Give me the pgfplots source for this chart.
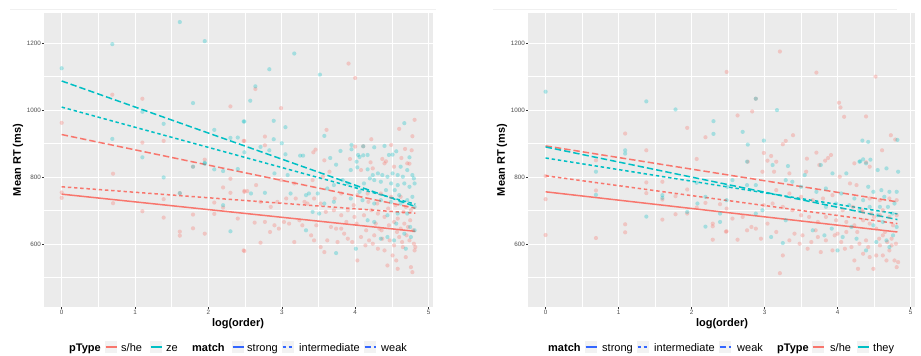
\documentclass[border=0pt]{standalone}
\usepackage{pgfplots}
\pgfplotsset{compat=1.18}
\usepackage{fontspec}
\setmainfont{Liberation Sans}
\definecolor{sred}{HTML}{F8766D}
\definecolor{scyan}{HTML}{00BFC4}
\definecolor{mblue}{HTML}{3366FF}
\definecolor{panel}{HTML}{EBEBEB}
\definecolor{keybg}{HTML}{F2F2F2}
\definecolor{ticklab}{HTML}{4D4D4D}
\definecolor{tickcol}{HTML}{333333}

\pgfplotstableread{
x y
0.69 1046
1.10 1034
0 962
2.30 1011
2.49 908
1.10 903
1.39 908
1.95 852
2.64 1063
3.91 1139
4.00 1096
2.99 1006
2.48 908
2.77 921
2.77 895
3.43 874
3.46 882
3.61 941
3.58 850
3.93 854
4.00 891
4.11 892
4.22 913
4.21 844
4.49 896
4.37 854
4.42 847
4.60 944
4.81 971
4.78 922
4.68 884
4.77 880
4.63 857
4.74 840
0 754
0 738
0.70 810
0.70 722
1.10 698
1.39 734
1.39 679
1.61 637
1.61 625
1.61 752
1.79 688
1.79 647
1.79 831
1.95 631
2.30 795
2.20 769
2.30 753
2.49 759
2.08 724
2.20 709
2.08 690
2.40 676
2.49 579
2.48 581
2.53 758
2.65 776
2.63 664
2.71 604
2.77 666
2.84 636
2.90 656
2.96 646
3.03 666
3.10 661
3.17 606
3.24 671
3.28 656
3.35 721
3.40 626
3.44 611
3.53 591
3.58 576
3.62 611
3.67 651
3.74 646
3.81 646
3.85 631
3.90 616
3.96 606
4.03 551
4.08 621
4.15 641
4.19 611
4.24 601
4.26 626
4.31 586
4.33 646
4.37 616
4.40 581
4.44 536
4.51 566
4.53 596
4.56 551
4.58 526
4.60 621
4.65 591
4.69 561
4.74 611
4.76 531
4.78 516
4.81 581
4.80 601
4.82 591
4.62 646
4.67 661
4.53 666
4.46 656
4.40 681
4.31 691
4.22 701
4.12 686
3.99 681
3.90 701
3.81 686
3.71 701
3.60 696
3.53 721
3.44 736
3.31 726
3.19 736
3.06 736
2.94 726
2.85 711
2.71 726
2.49 756
2.99 791
3.17 781
3.42 791
3.56 801
3.81 751
4.03 746
4.17 751
4.35 751
4.49 741
4.62 741
4.69 711
4.76 701
4.40 841
4.53 831
4.24 826
4.08 821
4.71 841
3.65 816
4.58 676
4.72 651
4.28 661
3.88 666
4.64 606
4.70 626
4.79 641
4.57 636
4.47 611
4.36 641
4.14 596
4.02 661
3.76 606
3.47 656
4.75 671
4.66 696
4.55 716
4.45 706
4.30 721
4.18 726
3.98 716
3.72 736
}\leftred

\pgfplotstableread{
x y
0 1125
0.69 1197
1.61 1263
1.95 1206
1.10 995
1.79 1021
1.39 959
2.08 941
2.30 917
2.40 918
2.49 966
0.69 914
1.10 859
1.95 840
2.49 874
3.17 1169
2.83 1122
2.64 1071
2.57 1028
3.52 1106
2.48 966
2.89 968
3.05 949
2.89 913
3.00 901
2.71 890
2.83 880
3.05 868
3.25 864
3.29 864
3.58 923
3.66 857
3.80 878
3.95 896
3.95 883
4.04 866
4.06 860
4.11 865
4.17 866
4.11 892
4.26 889
4.02 846
4.40 893
4.46 866
4.51 867
4.56 877
4.67 961
4.74 859
1.39 799
1.61 752
1.79 831
1.95 843
2.08 823
2.20 818
2.40 824
2.20 716
2.30 638
3.74 837
4.03 829
3.94 821
4.17 823
4.24 806
4.31 811
4.37 806
4.44 801
4.51 811
4.58 806
4.62 831
4.71 821
4.78 806
4.67 781
4.74 771
4.81 781
4.58 776
4.49 781
4.35 786
4.26 791
4.12 781
4.01 771
4.06 756
3.90 781
3.83 791
3.71 776
3.62 766
3.49 751
3.37 751
3.33 746
3.08 806
2.90 811
2.77 753
2.58 751
3.12 751
3.58 721
3.71 726
3.94 736
4.10 731
4.26 721
4.35 731
4.49 726
4.62 721
4.71 731
4.78 741
4.81 711
4.71 691
4.58 691
4.44 686
4.26 666
4.17 671
3.42 696
3.51 691
3.33 641
3.74 573
4.01 586
4.35 616
4.44 621
4.53 611
4.69 586
4.76 621
4.67 631
4.81 641
4.60 746
4.54 761
4.42 761
4.20 796
4.80 796
4.65 801
4.75 651
4.56 661
}\leftcyan

\pgfplotstableread{
x y
1.09 930
1.38 880
1.94 947
2.19 919
2.48 1114
2.07 854
0.69 850
3.21 1175
3.71 1112
4.52 1100
2.88 1034
2.83 996
2.63 984
4.02 1022
4.04 1008
4.09 980
4.39 981
2.99 872
3.39 925
3.29 908
3.25 898
3.09 863
3.04 849
2.77 846
3.58 855
3.71 873
3.83 849
3.87 857
3.91 866
4.39 844
4.61 880
4.73 925
4.79 912
0 803
0 734
0 627
0.69 760
0.69 618
1.09 659
1.09 635
1.38 784
1.38 752
1.60 786
1.60 733
1.60 673
1.78 689
1.78 743
1.94 763
1.94 691
2.07 709
2.19 723
2.29 661
2.29 653
2.29 613
2.39 719
2.48 638
2.48 706
2.47 637
2.56 676
2.63 613
2.70 681
2.76 641
2.82 651
2.88 646
2.95 616
3.04 661
3.16 636
3.21 513
3.25 566
3.34 611
3.41 631
3.48 601
3.52 626
3.59 586
3.64 606
3.73 621
3.77 576
3.84 611
3.93 581
4.00 631
4.05 606
4.12 636
4.19 591
4.23 551
4.28 526
4.30 601
4.35 571
4.39 611
4.44 561
4.49 526
4.53 566
4.58 596
4.62 566
4.67 551
4.71 581
4.78 551
4.81 531
4.83 546
4.80 601
4.74 616
4.65 636
4.53 646
4.44 661
4.35 671
4.23 656
4.12 666
3.98 671
3.84 681
3.73 666
3.61 681
3.50 686
3.38 701
3.25 711
3.11 721
2.99 716
3.16 761
3.34 751
3.50 741
3.66 731
3.80 736
3.93 746
4.07 701
4.21 711
4.35 696
4.46 691
4.58 686
4.71 681
4.81 686
4.81 731
4.71 736
4.58 731
4.44 736
4.26 776
4.17 781
4.03 801
3.75 836
3.57 816
3.34 811
3.13 816
2.97 816
4.44 831
4.23 841
3.16 846
4.62 626
4.76 656
4.68 606
4.57 616
4.42 591
4.27 636
4.10 586
3.96 626
3.70 641
4.74 596
4.50 681
4.33 701
4.62 701
}\rightred

\pgfplotstableread{
x y
0 1055
1.09 880
1.09 870
1.38 1026
1.78 1002
2.30 967
2.30 929
2.88 1034
3.17 1000
2.70 935
2.77 897
2.99 909
4.34 909
4.42 905
4.31 847
4.35 853
4.45 852
4.82 911
0.69 816
0.69 747
1.38 682
1.60 746
1.60 738
1.94 696
2.07 783
2.08 721
2.19 741
2.19 652
2.39 691
2.39 666
2.48 731
2.76 846
3.11 836
3.32 833
3.55 806
3.77 836
3.93 811
4.12 811
4.30 846
4.39 841
4.55 821
4.67 826
4.83 816
2.49 771
2.56 791
2.76 776
2.88 776
3.29 791
3.38 786
3.50 771
3.71 756
3.84 766
4.05 751
4.23 736
4.35 731
4.49 756
4.60 761
4.71 756
4.81 756
4.78 721
4.69 711
4.58 711
4.44 711
4.30 701
4.16 716
3.98 721
3.84 711
2.97 701
2.88 691
3.29 671
3.09 621
3.25 603
3.66 641
3.82 626
4.00 581
4.07 621
4.26 616
4.39 581
4.53 606
4.67 611
4.76 626
4.81 651
4.71 591
4.62 666
4.49 656
4.75 691
4.55 686
4.64 741
4.42 771
4.19 651
3.92 646
}\rightcyan

\pgfplotsset{
  ggpanel/.style={
    scale only axis,
    height=294pt,
    xmin=-0.241, xmax=5.061,
    ymin=412, ymax=1290,
    axis background/.style={fill=panel},
    axis line style={draw=none},
    xtick={0,1,2,3,4,5},
    ytick={600,800,1000,1200},
    minor xtick={0.5,1.5,2.5,3.5,4.5},
    minor ytick={500,700,900,1100},
    grid=both,
    major grid style={white, line width=1.0pt},
    minor grid style={white, line width=0.5pt},
    tick align=outside,
    xtick pos=bottom, ytick pos=left,
    major tick length=2pt,
    minor tick length=0pt,
    tick style={tickcol, line width=0.4pt},
    /pgf/number format/assume math mode=true,
    /pgf/number format/1000 sep={},
    ticklabel style={font=\fontsize{6.3}{7}\selectfont, text=ticklab, inner sep=1pt},
  },
  ptred/.style={only marks, mark=*, mark size=2.1pt, color=sred, mark options={draw opacity=0, line width=0pt, fill=sred, fill opacity=0.32}},
  ptcyan/.style={only marks, mark=*, mark size=2.1pt, color=scyan, mark options={draw opacity=0, line width=0pt, fill=scyan, fill opacity=0.3}},
  strongl/.style={line width=1.5pt, solid},
  interl/.style={line width=1.5pt, dash pattern=on 3.4pt off 2.8pt},
  weakl/.style={line width=1.5pt, dash pattern=on 6.4pt off 3pt},
}

\newcommand{\lkey}[3]{%
  \fill[keybg] (#1,3) rectangle (#1+12,15);
  \draw[#2, #3, line width=1.5pt] (#1+0.5,9) -- (#1+11.5,9);
}

\begin{document}
\begin{tikzpicture}[x=1pt,y=1pt]
\path[use as bounding box] (0,0) rectangle (921,356);
\draw[gray!12, line width=0.5pt] (10,347) -- (436,347);
\draw[gray!12, line width=0.5pt] (493,347) -- (897,347);

% Left panel
\begin{axis}[ggpanel, width=389pt, at={(44pt,49pt)}, anchor=south west]
\addplot[ptred] table {\leftred};
\addplot[ptcyan] table {\leftcyan};
\addplot[sred, strongl] coordinates {(0,749) (4.82,638)};
\addplot[sred, interl] coordinates {(0,771) (4.82,692)};
\addplot[sred, weakl] coordinates {(0,927) (4.82,707)};
\addplot[scyan, interl] coordinates {(0,1009) (4.82,719)};
\addplot[scyan, weakl] coordinates {(0,1087) (4.82,712)};
\end{axis}

% Right panel
\begin{axis}[ggpanel, width=387pt, at={(528pt,49pt)}, anchor=south west]
\addplot[ptred] table {\rightred};
\addplot[ptcyan] table {\rightcyan};
\addplot[sred, strongl] coordinates {(0,756) (4.82,636)};
\addplot[sred, interl] coordinates {(0,804) (4.82,661)};
\addplot[sred, weakl] coordinates {(0,893) (4.82,726)};
\addplot[scyan, interl] coordinates {(0,857) (4.82,690)};
\addplot[scyan, weakl] coordinates {(0,890) (4.82,673)};
\end{axis}

% Axis titles
\node[font=\bfseries\fontsize{11}{13}\selectfont] at (238,32) {log(order)};
\node[font=\bfseries\fontsize{11}{13}\selectfont] at (722,32) {log(order)};
\node[font=\bfseries\fontsize{11}{13}\selectfont, rotate=90] at (18,196) {Mean RT (ms)};
\node[font=\bfseries\fontsize{11}{13}\selectfont, rotate=90] at (502,196) {Mean RT (ms)};

% Left legend
\begin{scope}[every node/.style={inner sep=0pt, anchor=base west, font=\fontsize{11}{13}\selectfont}]
\node[font=\bfseries\fontsize{11}{13}\selectfont] at (69,5) {pType};
\lkey{105}{sred}{solid}
\node at (121,5) {s/he};
\lkey{150}{scyan}{solid}
\node at (166,5) {ze};
\node[font=\bfseries\fontsize{11}{13}\selectfont] at (192,5) {match};
\lkey{232}{mblue}{solid}
\node at (247,5) {strong};
\lkey{282}{mblue}{dash pattern=on 3.4pt off 2.8pt}
\node at (299,5) {intermediate};
\lkey{364}{mblue}{dash pattern=on 6.4pt off 3pt}
\node at (381,5) {weak};

% Right legend
\node[font=\bfseries\fontsize{11}{13}\selectfont] at (548,5) {match};
\lkey{585}{mblue}{solid}
\node at (602,5) {strong};
\lkey{637}{mblue}{dash pattern=on 3.4pt off 2.8pt}
\node at (654,5) {intermediate};
\lkey{719}{mblue}{dash pattern=on 6.4pt off 3pt}
\node at (737,5) {weak};
\node[font=\bfseries\fontsize{11}{13}\selectfont] at (777,5) {pType};
\lkey{812}{sred}{solid}
\node at (830,5) {s/he};
\lkey{857}{scyan}{solid}
\node at (873,5) {they};
\end{scope}
\end{tikzpicture}
\end{document}
